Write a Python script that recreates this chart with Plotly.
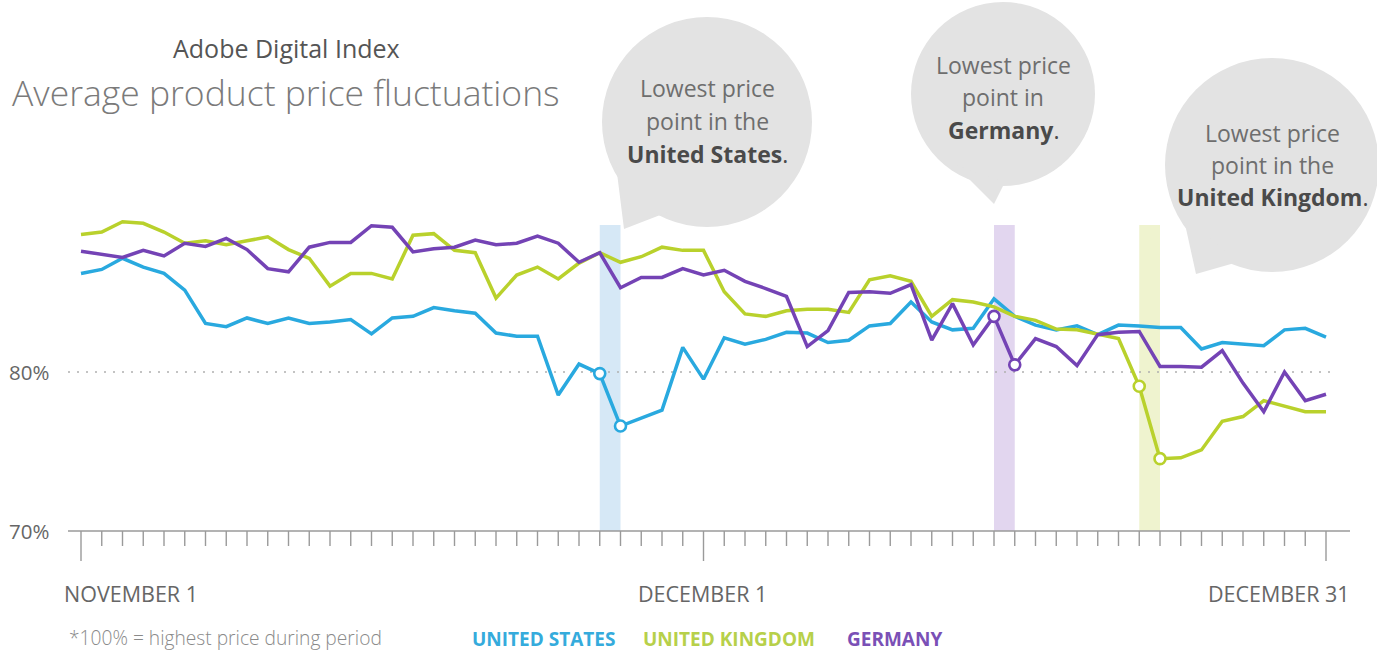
import plotly.graph_objects as go

# ---------------- data ----------------
days = list(range(61))  # Nov 1 .. Dec 31
tick_labels = ["NOVEMBER 1", "DECEMBER 1", "DECEMBER 31"]
major_days = [0, 30, 60]

us = [86.2, 86.45, 87.15, 86.6, 86.2, 85.15, 83.05, 82.85, 83.4, 83.05, 83.4,
      83.05, 83.15, 83.3, 82.4, 83.4, 83.5, 84.05, 83.85, 83.7, 82.45,
      82.25, 82.25, 78.55, 80.5, 79.9, 76.6, 77.1, 77.6, 81.55, 79.55,
      82.15, 81.75, 82.05, 82.5, 82.45, 81.85, 82.0, 82.9, 83.05, 84.4,
      83.15, 82.65, 82.75, 84.6, 83.5, 82.95, 82.65, 82.9, 82.35, 82.95,
      82.9, 82.8, 82.8, 81.45, 81.85, 81.75, 81.65, 82.65, 82.75, 82.2]
uk = [88.65, 88.8, 89.45, 89.35, 88.8, 88.1, 88.25, 88.0, 88.25, 88.5, 87.7,
      87.15, 85.4, 86.2, 86.2, 85.85, 88.6, 88.7, 87.65, 87.5, 84.65,
      86.1, 86.6, 85.85, 86.85, 87.5, 86.9, 87.25, 87.85, 87.65, 87.65,
      85.05, 83.65, 83.5, 83.85, 83.95, 83.95, 83.75, 85.8, 86.05, 85.7,
      83.5, 84.55, 84.4, 84.1, 83.5, 83.25, 82.7, 82.65, 82.4, 82.1,
      79.1, 74.55, 74.6, 75.1, 76.9, 77.2, 78.2, 77.85, 77.5, 77.5]
de = [87.6, 87.4, 87.2, 87.65, 87.3, 88.1, 87.9, 88.4, 87.7, 86.5, 86.3,
      87.85, 88.15, 88.15, 89.2, 89.1, 87.55, 87.75, 87.85, 88.3, 88.0,
      88.1, 88.55, 88.1, 86.9, 87.5, 85.3, 85.95, 85.95, 86.5, 86.1,
      86.4, 85.7, 85.25, 84.75, 81.6, 82.6, 85.0, 85.05, 84.95, 85.5,
      82.0, 84.3, 81.7, 83.5, 80.45, 82.1, 81.6, 80.4, 82.35, 82.5,
      82.55, 80.35, 80.35, 80.3, 81.35, 79.3, 77.5, 80.0, 78.2, 78.6]

series_names = ["UNITED STATES", "UNITED KINGDOM", "GERMANY"]
low_days = [26, 52, 45]          # day of the highlighted lowest price point
y_ticks = [70, 80]

# ---------------- styles ----------------
W, H = 1377, 652
line_colors = ["#29a9df", "#b9d12c", "#7443b5"]
band_colors = ["#d6e8f6", "#eff3cf", "#e2d6ef"]
legend_colors = ["#35abdc", "#b7d04a", "#7a50b6"]
FONT = "Open Sans"

# pixel mapping (figure margins are zero, so the plot area is the whole figure)
PX_DAY0, PX_PER_DAY = 81.0, 20.75
PY_80, PX_PER_PCT = 372.0, 15.9
x_range = [(0 - PX_DAY0) / PX_PER_DAY, (W - PX_DAY0) / PX_PER_DAY]
y_range = [80 - (H - PY_80) / PX_PER_PCT, 80 + PY_80 / PX_PER_PCT]


def px2x(px):
    return (px - PX_DAY0) / PX_PER_DAY


def py2y(py):
    return 80 + (PY_80 - py) / PX_PER_PCT


def pxp(px):
    return px / W


def pyp(py):
    return 1 - py / H


fig = go.Figure()
shapes = []
annotations = []

# highlight bands
for vals, ld, bc in zip([us, uk, de], low_days, band_colors):
    shapes.append(dict(type="rect", xref="x", yref="y", x0=days[ld - 1], x1=days[ld],
                       y0=70, y1=py2y(225), fillcolor=bc, line=dict(width=0), layer="below"))

# 80% dotted reference line
shapes.append(dict(type="line", xref="x", yref="y", x0=px2x(68), x1=px2x(1330), y0=80, y1=80,
                   line=dict(color="#b0b0b0", width=1.6, dash="2px,7px"), layer="below"))

# 70% axis line and ticks
shapes.append(dict(type="line", xref="x", yref="y", x0=px2x(68), x1=px2x(1350), y0=70, y1=70,
                   line=dict(color="#9a9a9a", width=1.6), layer="below"))
for d in days:
    bottom = py2y(561) if d in major_days else py2y(546)
    shapes.append(dict(type="line", xref="x", yref="y", x0=d, x1=d, y0=70, y1=bottom,
                       line=dict(color="#9a9a9a", width=1.4), layer="below"))

# lines
for name, vals, col in zip(series_names, [us, uk, de], line_colors):
    fig.add_trace(go.Scatter(x=days, y=vals, mode="lines", name=name,
                             line=dict(color=col, width=3.5), showlegend=False))
# markers at lowest points
for name, vals, col, ld in zip(series_names, [us, uk, de], line_colors, low_days):
    fig.add_trace(go.Scatter(x=[days[ld - 1], days[ld]], y=[vals[ld - 1], vals[ld]], mode="markers",
                             marker=dict(size=11, color="white", line=dict(color=col, width=2.6)),
                             showlegend=False, hoverinfo="skip"))

# speech bubbles
BUB = "#e3e3e3"
bubbles = [
    dict(cx=707, cy=122, r=105, tail=[(616, 165), (624, 229), (668, 212)],
         lines=["Lowest price", "point in the", "<b>United States</b>."], ty=[88, 121, 154]),
    dict(cx=1003, cy=94, r=92, tail=[(955, 165), (994, 204), (1005, 182)],
         lines=["Lowest price", "point in", "<b>Germany</b>."], ty=[65, 97, 130]),
    dict(cx=1272, cy=165, r=107, tail=[(1183, 215), (1196, 274), (1238, 262)],
         lines=["Lowest price", "point in the", "<b>United Kingdom</b>."], ty=[133, 165, 197]),
]
for b in bubbles:
    shapes.append(dict(type="circle", xref="paper", yref="paper",
                       x0=pxp(b["cx"] - b["r"]), x1=pxp(b["cx"] + b["r"]),
                       y0=pyp(b["cy"] + b["r"]), y1=pyp(b["cy"] - b["r"]),
                       fillcolor=BUB, line=dict(width=0), layer="above"))
    p = b["tail"]
    path = "M {} {} L {} {} L {} {} Z".format(pxp(p[0][0]), pyp(p[0][1]), pxp(p[1][0]), pyp(p[1][1]),
                                              pxp(p[2][0]), pyp(p[2][1]))
    shapes.append(dict(type="path", xref="paper", yref="paper", path=path,
                       fillcolor=BUB, line=dict(width=0), layer="above"))
    for t, ty in zip(b["lines"], b["ty"]):
        bold = "<b>" in t
        annotations.append(dict(xref="paper", yref="paper", x=pxp(b["cx"]), y=pyp(ty), text=t,
                                showarrow=False, xanchor="center", yanchor="middle",
                                font=dict(family=FONT, size=23, color="#4a4a4a" if bold else "#6e6e6e")))

# titles
annotations.append(dict(xref="paper", yref="paper", x=pxp(286), y=pyp(48), text="Adobe Digital Index",
                        showarrow=False, xanchor="center", yanchor="middle",
                        font=dict(family=FONT, size=25, color="#555555")))
annotations.append(dict(xref="paper", yref="paper", x=pxp(10), y=pyp(92),
                        text="Average product price fluctuations",
                        showarrow=False, xanchor="left", yanchor="middle",
                        font=dict(family=FONT, size=35.5, color="#7a7a7a", weight=300)))

# y labels
for v in y_ticks:
    annotations.append(dict(xref="paper", yref="y", x=pxp(7), y=v, text=f"{v}%", showarrow=False,
                            xanchor="left", yanchor="middle",
                            font=dict(family=FONT, size=20.5, color="#666666")))

# x labels
x_label_pos = [(62, "left"), (702, "center"), (1352, "right")]
for lab, (px, anc) in zip(tick_labels, x_label_pos):
    annotations.append(dict(xref="paper", yref="paper", x=pxp(px), y=pyp(593), text=lab,
                            showarrow=False, xanchor=anc, yanchor="middle",
                            font=dict(family=FONT, size=21.5, color="#666666")))

# footnote
annotations.append(dict(xref="paper", yref="paper", x=pxp(67), y=pyp(637),
                        text="*100% = highest price during period", showarrow=False,
                        xanchor="left", yanchor="middle",
                        font=dict(family=FONT, size=19.2, color="#8a8a8a", weight=300)))

# legend (text)
legend_x = [470, 641, 845]
for name, col, lx in zip(series_names, legend_colors, legend_x):
    annotations.append(dict(xref="paper", yref="paper", x=pxp(lx), y=pyp(639), text=f"<b>{name}</b>",
                            showarrow=False, xanchor="left", yanchor="middle",
                            font=dict(family=FONT, size=19, color=col)))

fig.update_layout(
    width=W, height=H,
    margin=dict(l=0, r=0, t=0, b=0, pad=0),
    paper_bgcolor="white", plot_bgcolor="white",
    xaxis=dict(range=x_range, visible=False, fixedrange=True),
    yaxis=dict(range=y_range, visible=False, fixedrange=True),
    shapes=shapes, annotations=annotations, showlegend=False,
)

fig.write_html("out.html", config={"displayModeBar": False},
               post_script="document.body.style.margin='0px';document.body.style.overflow='hidden';")
